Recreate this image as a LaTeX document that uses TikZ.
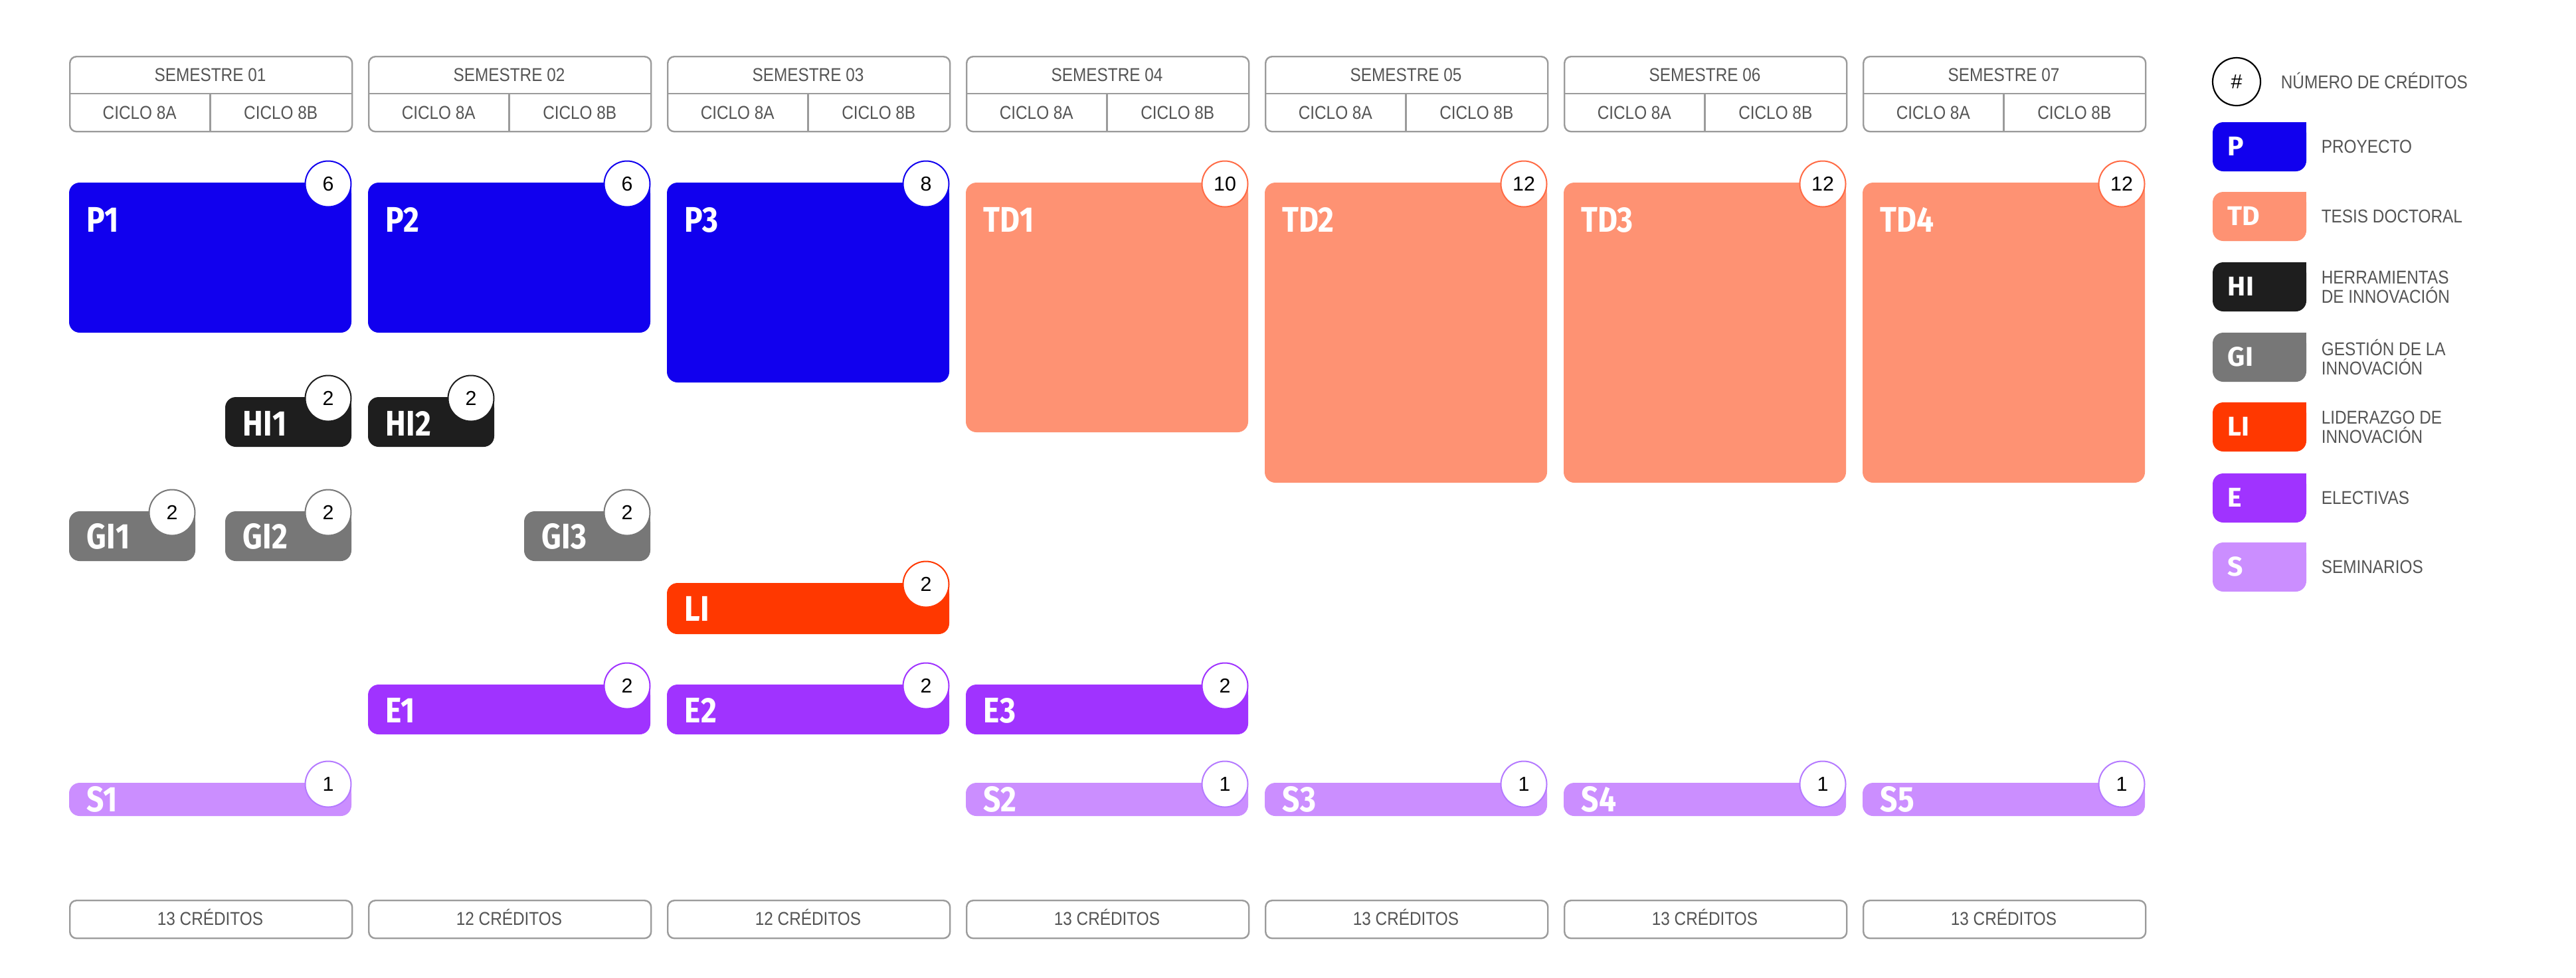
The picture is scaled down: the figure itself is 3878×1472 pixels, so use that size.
\documentclass[tikz,border=0pt]{standalone}
\usepackage{fontspec}
\setmainfont{Liberation Sans}
\newfontfamily\lblfont[FakeStretch=0.86]{Fira Sans}
\newfontfamily\legfont{Fira Sans}
\newfontfamily\greyfont[FakeStretch=0.87]{Liberation Sans}
\usetikzlibrary{calc}
\definecolor{fP}{HTML}{1100EE}\definecolor{dP}{HTML}{1100EE}
\definecolor{fTD}{HTML}{FE9273}\definecolor{dTD}{HTML}{FF6B45}
\definecolor{fHI}{HTML}{1E1E1E}\definecolor{dHI}{HTML}{1E1E1E}
\definecolor{fGI}{HTML}{777777}\definecolor{dGI}{HTML}{777777}
\definecolor{fLI}{HTML}{FF3800}\definecolor{dLI}{HTML}{FF3800}
\definecolor{fE}{HTML}{A033FF}\definecolor{dE}{HTML}{A033FF}
\definecolor{fS}{HTML}{CB8EFF}\definecolor{dS}{HTML}{B57AFF}
\definecolor{hgray}{HTML}{9B9B9B}
\definecolor{tgray}{HTML}{555555}
% #1 name, #2 left, #3 top, #4 width, #5 height, #6 colour key, #7 label, #8 credits, #9 baseline offset
\newcommand\course[9]{%
  \node[blockbox, fill=f#6, minimum width={#4*0.25pt}, minimum height={#5*0.25pt}] (#1) at (#2,#3) {};
  \fill[f#6] ($(#1.north east)+(-16,0)$) rectangle ($(#1.north east)+(0,16)$);
  \node[blocklbl] (#1-lbl) at ({#2+26},{#3+#9}) {#7};
  \node[credit, draw=d#6] (#1-cr) at ($(#1.north east)+(-35,2)$) {#8};
}
% #1 name, #2 left, #3 semester text
\newcommand\semhead[3]{%
  \node[headbox, minimum width=106.25pt, minimum height=28.25pt] (#1) at (#2,84) {};
  \draw[headline] (#2,141) -- ({#2+425},141);
  \draw[headline] ({#2+212.5},141) -- ({#2+212.5},197);
  \node[greytxt] (#1-sem) at ({#2+212.5},122.5) {#3};
  \node[greytxt] (#1-a) at ({#2+106.25},179) {CICLO 8A};
  \node[greytxt] (#1-b) at ({#2+318.75},179) {CICLO 8B};
}
% #1 name, #2 left, #3 text
\newcommand\credbox[3]{%
  \node[headbox, minimum width=106.25pt, minimum height=14.25pt] (#1) at (#2,1355) {};
  \node[greytxt] (#1-t) at ({#2+212.5},1393.5) {#3};
}
% #1 name, #2 top, #3 colour key, #4 letter, #5 text
\newcommand\legbox[5]{%
  \node[blockbox, fill=f#3, minimum width=35.25pt, minimum height=18.5pt] (#1) at (3331,#2) {};
  \fill[f#3] ($(#1.north east)+(-16,0)$) rectangle ($(#1.north east)+(0,16)$);
  \node[leglbl] (#1-lbl) at (3353,{#2+50}) {#4};
  \node[legtext] (#1-txt) at (3494,{#2+37}) {#5};
}
\begin{document}
\begin{tikzpicture}[x=0.25pt,y=-0.25pt,
  blockbox/.style={rectangle, rounded corners=4pt, inner sep=0pt, outer sep=0pt, anchor=north west},
  blocklbl/.style={anchor=base west, inner sep=0pt, text=white, font=\lblfont\bfseries\fontsize{13.4}{14}\selectfont},
  credit/.style={circle, fill=white, line width=0.5pt, minimum size=17.25pt, inner sep=0pt, text=black, font=\fontsize{7.6}{8}\selectfont},
  headbox/.style={rectangle, rounded corners=2.5pt, draw=hgray, line width=0.6pt, inner sep=0pt, anchor=north west},
  headline/.style={draw=hgray, line width=0.6pt},
  greytxt/.style={inner sep=0pt, anchor=base, text=tgray, font=\greyfont\fontsize{7}{8}\selectfont},
  leglbl/.style={anchor=base west, inner sep=0pt, text=white, font=\legfont\bfseries\fontsize{10.2}{11}\selectfont},
  legtext/.style={anchor=west, inner sep=0pt, align=left, text=tgray, font=\greyfont\fontsize{7}{7.25}\selectfont}]
\fill[white] (0,0) rectangle (3878,1472);
\useasboundingbox (0,0) rectangle (3878,1472);

% headers
\semhead{h1}{104}{SEMESTRE 01}
\semhead{h2}{554}{SEMESTRE 02}
\semhead{h3}{1004}{SEMESTRE 03}
\semhead{h4}{1454}{SEMESTRE 04}
\semhead{h5}{1904}{SEMESTRE 05}
\semhead{h6}{2354}{SEMESTRE 06}
\semhead{h7}{2804}{SEMESTRE 07}

% projects / thesis
\course{P1}{104}{275}{425}{226}{P}{P1}{6}{74}
\course{P2}{554}{275}{425}{226}{P}{P2}{6}{74}
\course{P3}{1004}{275}{425}{301}{P}{P3}{8}{74}
\course{TD1}{1454}{275}{425}{376}{TD}{TD1}{10}{74}
\course{TD2}{1904}{275}{425}{452}{TD}{TD2}{12}{74}
\course{TD3}{2354}{275}{425}{452}{TD}{TD3}{12}{74}
\course{TD4}{2804}{275}{425}{452}{TD}{TD4}{12}{74}

% innovation tools / management
\course{HI1}{339}{598}{190}{75}{HI}{HI1}{2}{58}
\course{HI2}{554}{598}{190}{75}{HI}{HI2}{2}{58}
\course{GI1}{104}{770}{190}{75}{GI}{GI1}{2}{56}
\course{GI2}{339}{770}{190}{75}{GI}{GI2}{2}{56}
\course{GI3}{789}{770}{190}{75}{GI}{GI3}{2}{56}

% leadership
\course{LI}{1004}{878}{425}{77}{LI}{LI}{2}{57}

% electives
\course{E1}{554}{1031}{425}{75}{E}{E1}{2}{57}
\course{E2}{1004}{1031}{425}{75}{E}{E2}{2}{57}
\course{E3}{1454}{1031}{425}{75}{E}{E3}{2}{57}

% seminars
\course{S1}{104}{1179}{425}{50}{S}{S1}{1}{43}
\course{S2}{1454}{1179}{425}{50}{S}{S2}{1}{43}
\course{S3}{1904}{1179}{425}{50}{S}{S3}{1}{43}
\course{S4}{2354}{1179}{425}{50}{S}{S4}{1}{43}
\course{S5}{2804}{1179}{425}{50}{S}{S5}{1}{43}

% credit totals
\credbox{c1}{104}{13 CRÉDITOS}
\credbox{c2}{554}{12 CRÉDITOS}
\credbox{c3}{1004}{12 CRÉDITOS}
\credbox{c4}{1454}{13 CRÉDITOS}
\credbox{c5}{1904}{13 CRÉDITOS}
\credbox{c6}{2354}{13 CRÉDITOS}
\credbox{c7}{2804}{13 CRÉDITOS}

% legend
\node[circle, draw=black, line width=0.55pt, minimum size=18pt, inner sep=0pt, font=\fontsize{7.6}{8}\selectfont] (lgnum) at (3367,123) {\#};
\node[greytxt, anchor=base west] (lgnum-txt) at (3433,133) {NÚMERO DE CRÉDITOS};
\legbox{lgP}{184}{P}{P}{PROYECTO}
\legbox{lgTD}{289}{TD}{TD}{TESIS DOCTORAL}
\legbox{lgHI}{395}{HI}{HI}{HERRAMIENTAS\\DE INNOVACIÓN}
\legbox{lgGI}{501}{GI}{GI}{GESTIÓN DE LA\\INNOVACIÓN}
\legbox{lgLI}{606}{LI}{LI}{LIDERAZGO DE\\INNOVACIÓN}
\legbox{lgE}{713}{E}{E}{ELECTIVAS}
\legbox{lgS}{817}{S}{S}{SEMINARIOS}
\end{tikzpicture}
\end{document}
